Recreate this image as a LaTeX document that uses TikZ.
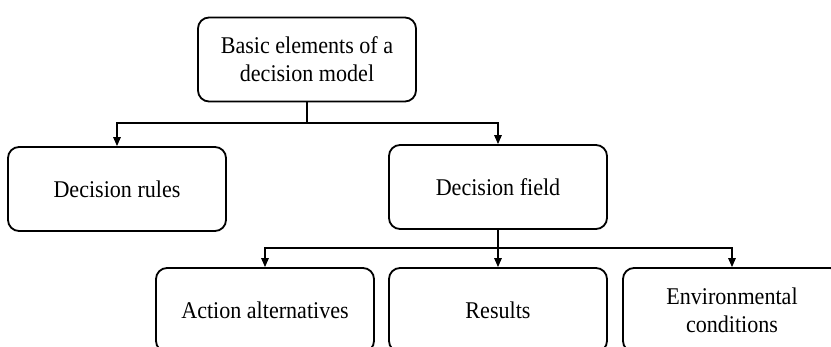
\documentclass[tikz,border=0pt]{standalone}
\usepackage{fontspec}
\setmainfont[FakeStretch=0.92]{Liberation Serif}
\usetikzlibrary{arrows.meta}
\begin{document}
\begin{tikzpicture}[x=1pt,y=-1pt,
  box/.style={draw,line width=1.8pt,rounded corners=11pt,
    minimum width=218pt,minimum height=84pt,align=center,
    font=\fontsize{24}{28}\selectfont,inner sep=0pt},
  link/.style={line width=1.3pt},
  arr/.style={link,-{Triangle[length=9pt,width=7.5pt]}}]
\useasboundingbox (0,0) rectangle (831,347);
\clip (0,0) rectangle (831,347);

% boxes
\node[box] (top)     at (307,59.5) {Basic elements of a\\decision model};
\node[box] (rules)   at (117,189)  {Decision rules};
\node[box] (field)   at (498,187)  {Decision field};
\node[box] (action)  at (265,310)  {Action alternatives};
\node[box] (results) at (498,310)  {Results};
\node[box] (env)     at (732,310)  {Environmental\\conditions};

% branching points
\coordinate (split1) at (307,123);
\coordinate (split2) at (498,248);

% first level
\draw[link] (top.south) -- (split1);
\draw[arr] (split1) -| (rules.north);
\draw[arr] (split1) -| (field.north);

% second level
\draw[arr] (field.south) -- (results.north);
\draw[arr] (split2) -| (action.north);
\draw[arr] (split2) -| (env.north);
\end{tikzpicture}
\end{document}
